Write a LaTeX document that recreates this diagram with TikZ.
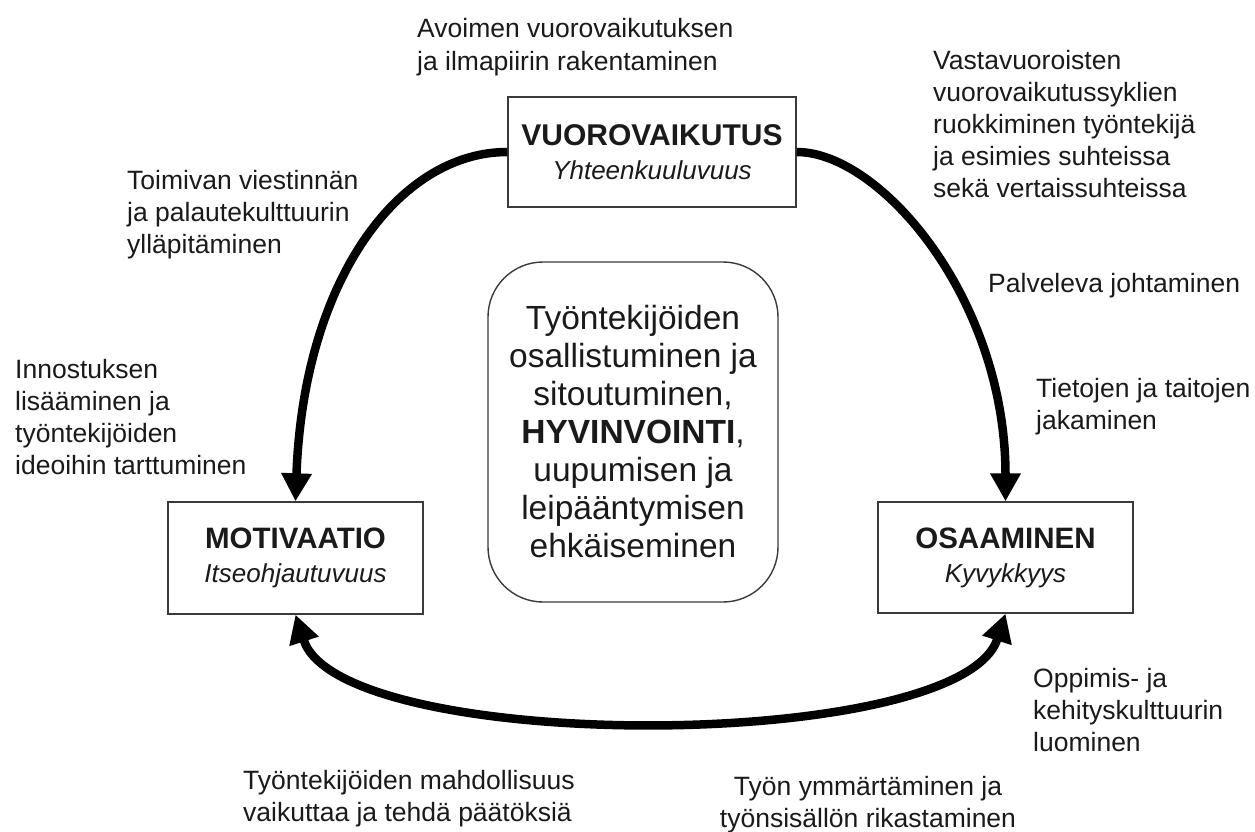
\documentclass[tikz,border=0pt]{standalone}
\usepackage{fontspec}
\setmainfont{Liberation Sans}
\usetikzlibrary{arrows.meta}
\definecolor{inkc}{HTML}{1A1A1A}
\definecolor{framec}{HTML}{3A3A3A}
\begin{document}
\begin{tikzpicture}[x=1pt,y=-1pt,
  conceptbox/.style={draw=framec,line width=1.4pt,fill=white,align=center,inner sep=0pt,
    text=inkc,font=\fontsize{26}{34}\selectfont},
  hubbox/.style={draw=framec,line width=1.4pt,rounded corners=55pt,align=center,inner sep=0pt,
    text=inkc,font=\fontsize{33.5}{38}\selectfont,minimum width=290pt,minimum height=340pt},
  note/.style={align=left,anchor=north west,inner sep=0pt,text=inkc,
    font=\fontsize{26.5}{32}\selectfont},
  notec/.style={note,align=center,anchor=north},
  cycle/.style={line width=8.5pt,black,-{Triangle[length=28pt,width=29pt]}},
  cycleboth/.style={line width=8.5pt,black,{Triangle[length=28pt,width=29pt]}-{Triangle[length=28pt,width=29pt]}}
]
\useasboundingbox (0,0) rectangle (1255,832);
\fill[white] (0,0) rectangle (1255,832);

% the three cornerstones
\node[conceptbox,minimum width=288pt,minimum height=110pt] (vuoro) at (652,152)
  {{\fontsize{30}{34}\selectfont\bfseries VUOROVAIKUTUS}\\\itshape Yhteenkuuluvuus};
\node[conceptbox,minimum width=255pt,minimum height=112pt] (motiv) at (295.5,558)
  {{\fontsize{29.5}{34}\selectfont\bfseries MOTIVAATIO}\\\itshape Itseohjautuvuus};
\node[conceptbox,minimum width=255pt,minimum height=111pt] (osaam) at (1005.5,557.5)
  {{\fontsize{29.5}{34}\selectfont\bfseries OSAAMINEN}\\\itshape Kyvykkyys};

% the common goal in the middle
\node[hubbox] (hub) at (633,432)
  {Työntekijöiden\\osallistuminen ja\\sitoutuminen,\\\textbf{HYVINVOINTI},\\uupumisen ja\\leipääntymisen\\ehkäiseminen};

% cycle connectors
\draw[cycle] (vuoro.west) .. controls +(-108,0) and +(8,-222) .. (motiv.north);
\draw[cycle] (vuoro.east) .. controls +(84,0) and +(0,-202) .. (osaam.north);
\draw[cycleboth] (motiv.south) .. controls +(45,140) and +(-45,140) .. (osaam.south);

% means along the cycle
\node[note,font=\fontsize{26.5}{33}\selectfont] (n1) at (417,18)
  {Avoimen vuorovaikutuksen\\ja ilmapiirin rakentaminen};
\node[note] (n2) at (933,50)
  {Vastavuoroisten\\vuorovaikutussyklien\\ruokkiminen työntekijä\\ja esimies suhteissa\\sekä vertaissuhteissa};
\node[note] (n3) at (127,170)
  {Toimivan viestinnän\\ja palautekulttuurin\\ylläpitäminen};
\node[note] (n4) at (15,359)
  {Innostuksen\\lisääminen ja\\työntekijöiden\\ideoihin tarttuminen};
\node[note] (n5) at (988,273) {Palveleva johtaminen};
\node[note] (n6) at (1036,378) {Tietojen ja taitojen\\jakaminen};
\node[note] (n7) at (1033,668) {Oppimis- ja\\kehityskulttuurin\\luominen};
\node[note] (n8) at (243,770) {Työntekijöiden mahdollisuus\\vaikuttaa ja tehdä päätöksiä};
\node[notec] (n9) at (868,776) {Työn ymmärtäminen ja\\työnsisällön rikastaminen};
\end{tikzpicture}
\end{document}
